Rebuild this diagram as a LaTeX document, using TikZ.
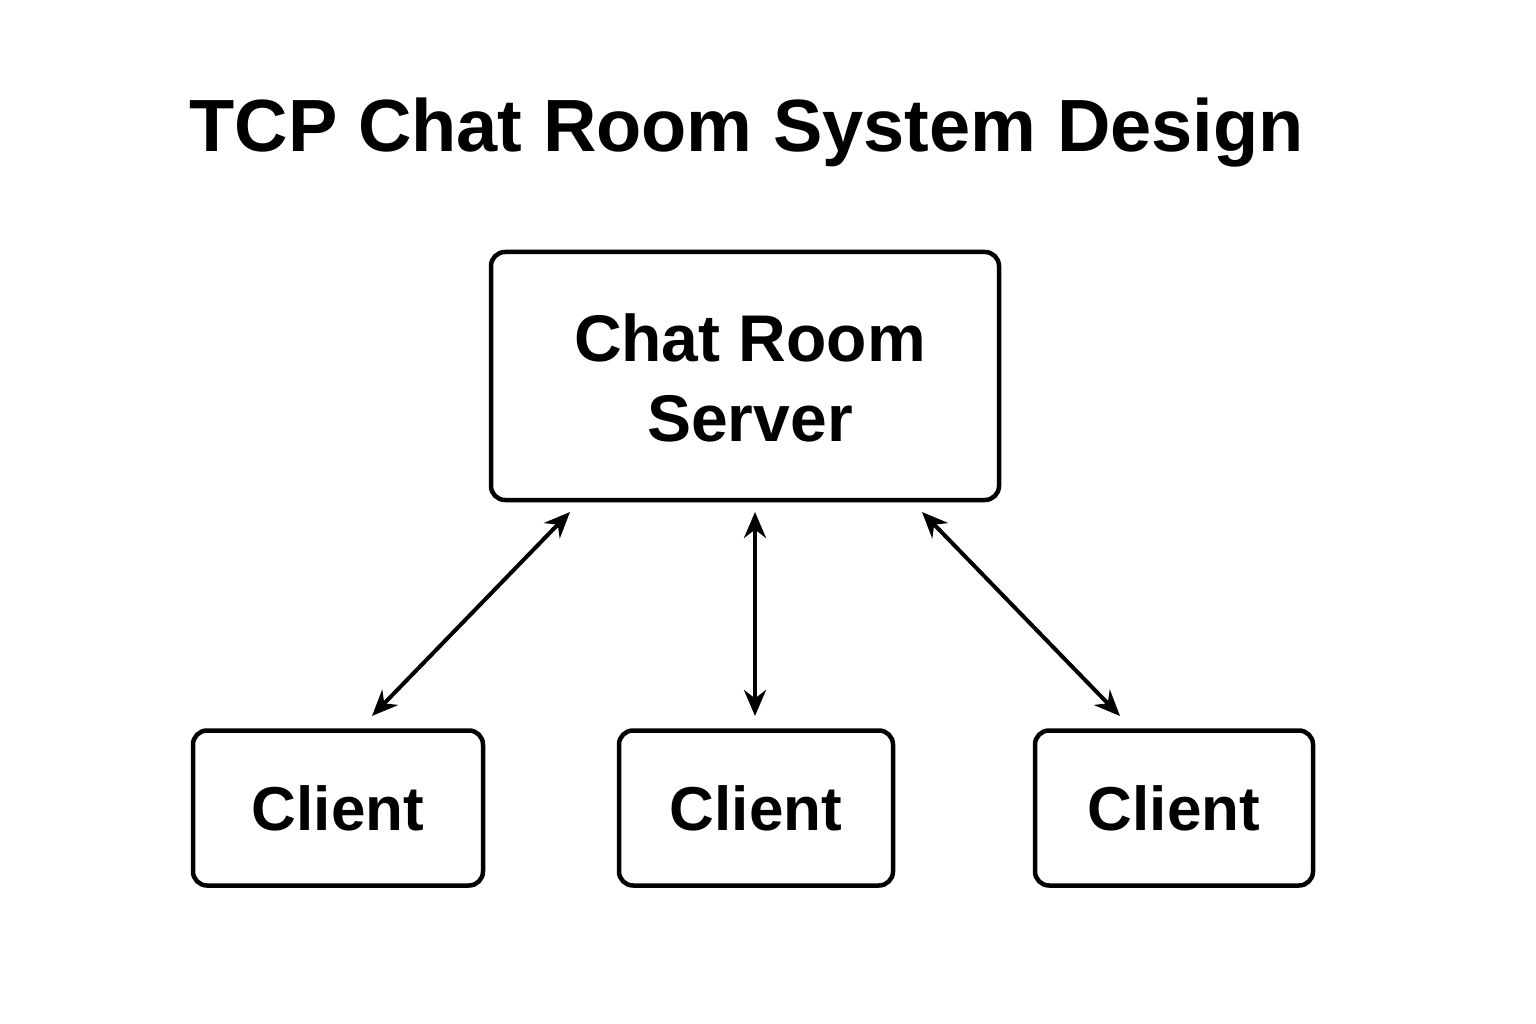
\documentclass[tikz,border=0pt]{standalone}
\usepackage{fontspec}
\setmainfont{Liberation Sans}
\usetikzlibrary{arrows.meta}
\begin{document}
\begin{tikzpicture}[x=1pt,y=-1pt,
  box/.style={draw,line width=4.5pt,rounded corners=14pt,inner sep=0pt},
  conn/.style={line width=4pt,{Stealth[length=26pt,width=22pt]}-{Stealth[length=26pt,width=22pt]}}]
\useasboundingbox (0,0) rectangle (1536,1024);
\node[anchor=west,font=\fontsize{74}{80}\selectfont\bfseries] (title) at (186,133) {TCP Chat Room System Design};
\node[box,minimum width=508pt,minimum height=248pt] (srv) at (745,376) {};
\node[font=\fontsize{66}{80}\selectfont\bfseries,align=center] (srvt) at (750,378) {Chat Room\\Server};
\node[box,minimum width=290pt,minimum height=155pt,font=\fontsize{62}{70}\selectfont\bfseries] (c1) at (338,808) {Client};
\node[box,minimum width=274pt,minimum height=155pt,font=\fontsize{62}{70}\selectfont\bfseries] (c2) at (756,808) {Client};
\node[box,minimum width=278pt,minimum height=155pt,font=\fontsize{62}{70}\selectfont\bfseries] (c3) at (1174,808) {Client};
\coordinate (s1) at (570,512); \coordinate (e1) at (372,716);
\coordinate (s2) at (755,512); \coordinate (e2) at (755,716);
\coordinate (s3) at (922,512); \coordinate (e3) at (1120,716);
\draw[conn] (s1) -- (e1);
\draw[conn] (s2) -- (e2);
\draw[conn] (s3) -- (e3);
\end{tikzpicture}
\end{document}
